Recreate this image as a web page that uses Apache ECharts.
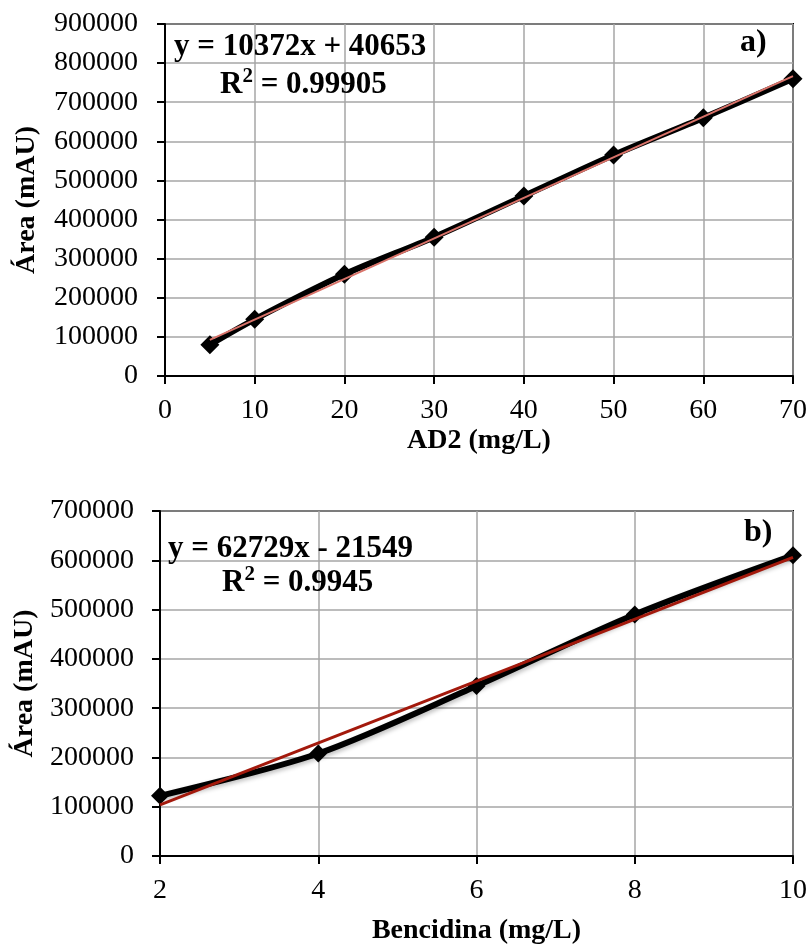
<!DOCTYPE html>
<html>
<head>
<meta charset="utf-8">
<script src="https://cdn.jsdelivr.net/npm/echarts@6/dist/echarts.min.js"></script>
<style>
  html, body { margin: 0; padding: 0; background: #ffffff; }
  #chart { width: 810px; height: 946px; }
</style>
</head>
<body>
<div id="chart"></div>
<script>
// Calibration data: AD2 (panel a)
const adConc = [5, 10, 20, 30, 40, 50, 60, 70];
const adArea = [80000, 145000, 260000, 355000, 460000, 565000, 660000, 760000];
const adFit = [10372, 40653];          // slope, intercept
const adR2 = '0.99905';

// Calibration data: Bencidina (panel b)
const bzConc = [2, 4, 6, 8, 10];
const bzArea = [122000, 208000, 345000, 490000, 610000];
const bzFit = [62729, -21549];         // slope, intercept
const bzR2 = '0.9945';

const serif = '"Liberation Serif", "DejaVu Serif", serif';

function pairs(xs, ys) { return xs.map((x, i) => [x, ys[i]]); }
function fitLine(xs, fit) {
  const a = Math.min(...xs), b = Math.max(...xs);
  return [[a, fit[0] * a + fit[1]], [b, fit[0] * b + fit[1]]];
}
function eqText(fit) {
  const sign = fit[1] < 0 ? ' - ' : ' + ';
  return 'y = ' + fit[0] + 'x' + sign + Math.abs(fit[1]);
}
const plain = v => String(v);

// R² label with a raised "2"
const r2Rich = {
  b: { font: 'bold 31px ' + serif, fill: '#000', lineHeight: 34, verticalAlign: 'bottom' },
  s: { font: 'bold 21px ' + serif, fill: '#000', lineHeight: 34, verticalAlign: 'top' }
};
function r2Text(v) { return '{b|R}{s|2}{b| = ' + v + '}'; }

const axisCommon = {
  axisLine: { show: true, lineStyle: { color: '#000', width: 2 } },
  axisTick: { show: true, inside: false, length: 8, lineStyle: { color: '#000', width: 2 } },
  splitLine: { show: true, lineStyle: { color: '#a6a6a6', width: 1.5 } },
  axisLabel: { color: '#000', fontFamily: serif, fontSize: 28, formatter: plain },
  nameTextStyle: { color: '#000', fontFamily: serif, fontSize: 28, fontWeight: 'bold' },
  nameLocation: 'middle'
};

const chart = echarts.init(document.getElementById('chart'), null, { renderer: 'canvas' });

chart.setOption({
  backgroundColor: '#ffffff',
  animation: false,
  grid: [
    { left: 165, right: 16, top: 24, bottom: 570, show: true, borderColor: '#000', borderWidth: 2, backgroundColor: 'transparent' },
    { left: 160, right: 17, top: 511, bottom: 90, show: true, borderColor: '#000', borderWidth: 2, backgroundColor: 'transparent' }
  ],
  xAxis: [
    Object.assign({}, axisCommon, {
      gridIndex: 0, type: 'value', min: 0, max: 70, interval: 10,
      name: 'AD2 (mg/L)', nameGap: 51,
      axisLabel: Object.assign({}, axisCommon.axisLabel, { margin: 21 })
    }),
    Object.assign({}, axisCommon, {
      gridIndex: 1, type: 'value', min: 2, max: 10, interval: 2,
      name: 'Bencidina (mg/L)', nameGap: 61,
      axisLabel: Object.assign({}, axisCommon.axisLabel, { margin: 21 })
    })
  ],
  yAxis: [
    Object.assign({}, axisCommon, {
      gridIndex: 0, type: 'value', min: 0, max: 900000, interval: 100000,
      name: 'Área (mAU)', nameGap: 124,
      axisLabel: Object.assign({}, axisCommon.axisLabel, { margin: 27 })
    }),
    Object.assign({}, axisCommon, {
      gridIndex: 1, type: 'value', min: 0, max: 700000, interval: 100000,
      name: 'Área (mAU)', nameGap: 120,
      axisLabel: Object.assign({}, axisCommon.axisLabel, { margin: 26 })
    })
  ],
  series: [
    {
      type: 'line', xAxisIndex: 0, yAxisIndex: 0,
      data: pairs(adConc, adArea), smooth: 0.3,
      symbol: 'diamond', symbolSize: 19,
      lineStyle: { color: '#000', width: 6 },
      itemStyle: { color: '#000' }, z: 3
    },
    {
      type: 'line', xAxisIndex: 0, yAxisIndex: 0,
      data: fitLine(adConc, adFit), symbol: 'none',
      lineStyle: { color: '#d9736a', width: 2 }, z: 4
    },
    {
      type: 'line', xAxisIndex: 1, yAxisIndex: 1,
      data: pairs(bzConc, bzArea), smooth: 0.3,
      symbol: 'diamond', symbolSize: 18,
      lineStyle: { color: '#000', width: 6, shadowColor: 'rgba(0,0,0,0.25)', shadowBlur: 4, shadowOffsetX: 2, shadowOffsetY: 2 },
      itemStyle: { color: '#000' }, z: 3
    },
    {
      type: 'line', xAxisIndex: 1, yAxisIndex: 1,
      data: fitLine(bzConc, bzFit), symbol: 'none',
      lineStyle: { color: '#a3190c', width: 3 }, z: 4
    }
  ],
  graphic: [
    { type: 'text', left: 174, top: 31, z: 10, style: { text: eqText(adFit), font: 'bold 31px ' + serif, fill: '#000' } },
    { type: 'text', left: 220, top: 66, z: 10, style: { text: r2Text(adR2), rich: r2Rich } },
    { type: 'text', left: 740, top: 27, z: 10, style: { text: 'a)', font: 'bold 32px ' + serif, fill: '#000' } },
    { type: 'text', left: 168, top: 533, z: 10, style: { text: eqText(bzFit), font: 'bold 31px ' + serif, fill: '#000' } },
    { type: 'text', left: 222, top: 564, z: 10, style: { text: r2Text(bzR2), rich: r2Rich } },
    { type: 'text', left: 744, top: 517, z: 10, style: { text: 'b)', font: 'bold 32px ' + serif, fill: '#000' } }
  ]
});
</script>
</body>
</html>
